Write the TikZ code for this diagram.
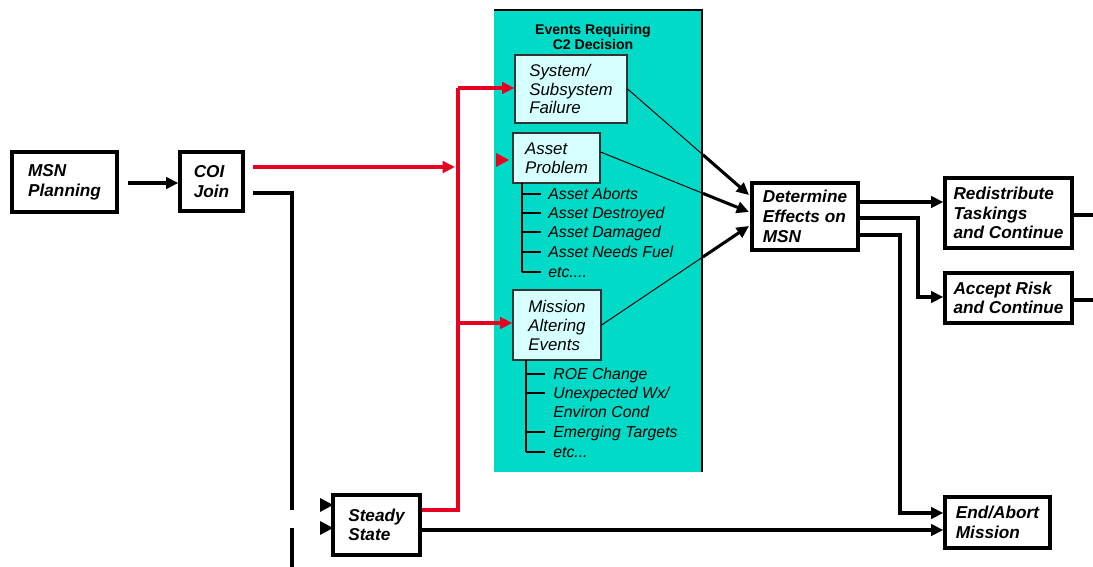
\documentclass[tikz,border=0pt]{standalone}
\usepackage{fontspec}
\setmainfont{Liberation Sans}
\usetikzlibrary{arrows.meta,calc}
\definecolor{panelteal}{RGB}{0,218,198}
\definecolor{eventcyan}{RGB}{214,255,255}
\definecolor{flowred}{RGB}{232,0,32}
\tikzset{
  blockbox/.style={draw=black,line width=1.9pt,fill=white,align=left,inner sep=2pt,
    font=\fontsize{9.8}{11.2}\selectfont\bfseries\itshape},
  eventbox/.style={draw=black!80,line width=0.7pt,fill=eventcyan,align=left,inner sep=2pt,
    font=\fontsize{9.6}{10.8}\selectfont\itshape},
  listitem/.style={anchor=west,inner sep=0pt,text height=1.5ex,text depth=0.35ex,
    font=\fontsize{9}{10}\selectfont\itshape},
  flow/.style={line width=1.75pt,black},
  redflow/.style={line width=1.8pt,flowred},
  tip/.style={-{Triangle[length=7pt,width=6.5pt]}},
  thinlink/.style={line width=0.55pt,black},
  listline/.style={line width=0.9pt,black}
}
\begin{document}
\begin{tikzpicture}[x=0.02cm,y=-0.02cm]
\useasboundingbox (0,0) rectangle (1093,567);

% decision panel
\fill[panelteal] (494,10) rectangle (702,472);
\draw[line width=1.3pt] (494,10) -- (702,10) -- (702,472);
\node[align=center,font=\fontsize{8}{8.6}\selectfont\bfseries] (title) at (593,37)
  {Events Requiring\\C2 Decision};

% main blocks
\node[blockbox,minimum width=2.1cm,minimum height=1.2cm] (msn) at (64.5,182) {MSN\\Planning};
\node[blockbox,minimum width=1.26cm,minimum height=1.18cm] (coi) at (211.5,181.5) {COI\\Join};
\node[blockbox,minimum width=1.74cm,minimum height=1.2cm] (steady) at (376.5,525) {Steady\\State};
\node[blockbox,minimum width=2.12cm,minimum height=1.34cm] (det) at (805,216.5) {Determine\\Effects on\\MSN};
\node[blockbox,minimum width=2.54cm,minimum height=1.4cm] (redis) at (1008.5,213) {Redistribute\\Taskings\\and Continue};
\node[blockbox,minimum width=2.54cm,minimum height=1.0cm] (accept) at (1008.5,298) {Accept Risk\\and Continue};
\node[blockbox,minimum width=2.1cm,minimum height=1.02cm] (endab) at (997.5,522.5) {End/Abort\\Mission};

% event boxes
\node[eventbox,minimum width=2.24cm,minimum height=1.36cm] (sys) at (571,89) {System/\\Subsystem\\Failure};
\node[eventbox,minimum width=1.74cm,minimum height=1.0cm] (asset) at (556.5,158) {Asset\\Problem};
\node[eventbox,minimum width=1.76cm,minimum height=1.4cm] (mae) at (557,325) {Mission\\Altering\\Events};

% asset problem list
\draw[listline] (522,183) -- (522,272);
\foreach \y in {194,213,232,252,272}{\draw[listline] (522,\y) -- (541,\y);}
\node[listitem] (a1) at (548,194) {Asset Aborts};
\node[listitem] (a2) at (548,213) {Asset Destroyed};
\node[listitem] (a3) at (548,232) {Asset Damaged};
\node[listitem] (a4) at (548,252) {Asset Needs Fuel};
\node[listitem] (a5) at (548,272) {etc....};

% mission altering list
\draw[listline] (526,360) -- (526,452);
\foreach \y in {374,393,432,452}{\draw[listline] (526,\y) -- (545,\y);}
\node[listitem] (m1) at (553,374) {ROE Change};
\node[listitem] (m2) at (553,393) {Unexpected Wx/};
\node[listitem] (m3) at (553,412) {Environ Cond};
\node[listitem] (m4) at (553,432) {Emerging Targets};
\node[listitem] (m5) at (553,452) {etc...};

% connector points
\coordinate (coiR) at (253,167);
\coordinate (coiB) at (253,193);
\coordinate (redbus) at (458,167);
\coordinate (busTop) at (458,88);
\coordinate (busMid) at (458,323);
\coordinate (busBot) at (458,510);
\coordinate (dIn1) at (749,195);
\coordinate (dIn2) at (749,212);
\coordinate (dIn3) at (749,226);

% planning to join
\draw[flow,tip] ([xshift=0.18cm]msn.east |- 0,183) -- (coi.west |- 0,183);

% red decision flow
\draw[redflow,tip] (coiR) -- ([xshift=-0.06cm]redbus);
\draw[redflow] (busTop) -- (busBot) -- (steady.east |- busBot);
\draw[redflow,tip] (busTop) -- (sys.west |- busTop);
\draw[redflow,tip] (busMid) -- (mae.west |- busMid);
\fill[flowred] (496,153) -- (509,160) -- (496,167) -- cycle;

% black flow out of join
\draw[flow] (coiB) -- (292,193) -- (292,510);
\draw[flow] (292,528) -- (292,567);
\fill[black] (320,498) -- (333,505) -- (320,512) -- cycle;
\fill[black] (320,521) -- (333,528) -- (320,535) -- cycle;

% steady state to end
\draw[flow,tip] (steady.east |- 0,530) -- (endab.west |- 0,530);

% events into effect determination
\coordinate (s1) at (sys.east |- 0,89);
\coordinate (s2) at (asset.east |- 0,152);
\coordinate (s3) at (mae.east |- 0,325);
\coordinate (e1) at ($(s1)!0.62!(dIn1)$);
\coordinate (e2) at ($(s2)!0.69!(dIn2)$);
\coordinate (e3) at ($(s3)!0.687!(dIn3)$);
\draw[thinlink] (s1) -- (e1);
\draw[thinlink] (s2) -- (e2);
\draw[thinlink] (s3) -- (e3);
\draw[flow,tip] (e1) -- (dIn1);
\draw[flow,tip] (e2) -- (dIn2);
\draw[flow,tip] (e3) -- (dIn3);

% outcomes
\draw[flow,tip] (det.east |- 0,202) -- (redis.west |- 0,202);
\draw[flow,tip] (det.east |- 0,218) -- (918,218) -- (918,297) -- (accept.west |- 0,297);
\draw[flow,tip] (det.east |- 0,235) -- (900,235) -- (900,513) -- (endab.west |- 0,513);
\draw[flow] (redis.east |- 0,215) -- (1093,215);
\draw[flow] (accept.east |- 0,300) -- (1093,300);
\end{tikzpicture}
\end{document}
